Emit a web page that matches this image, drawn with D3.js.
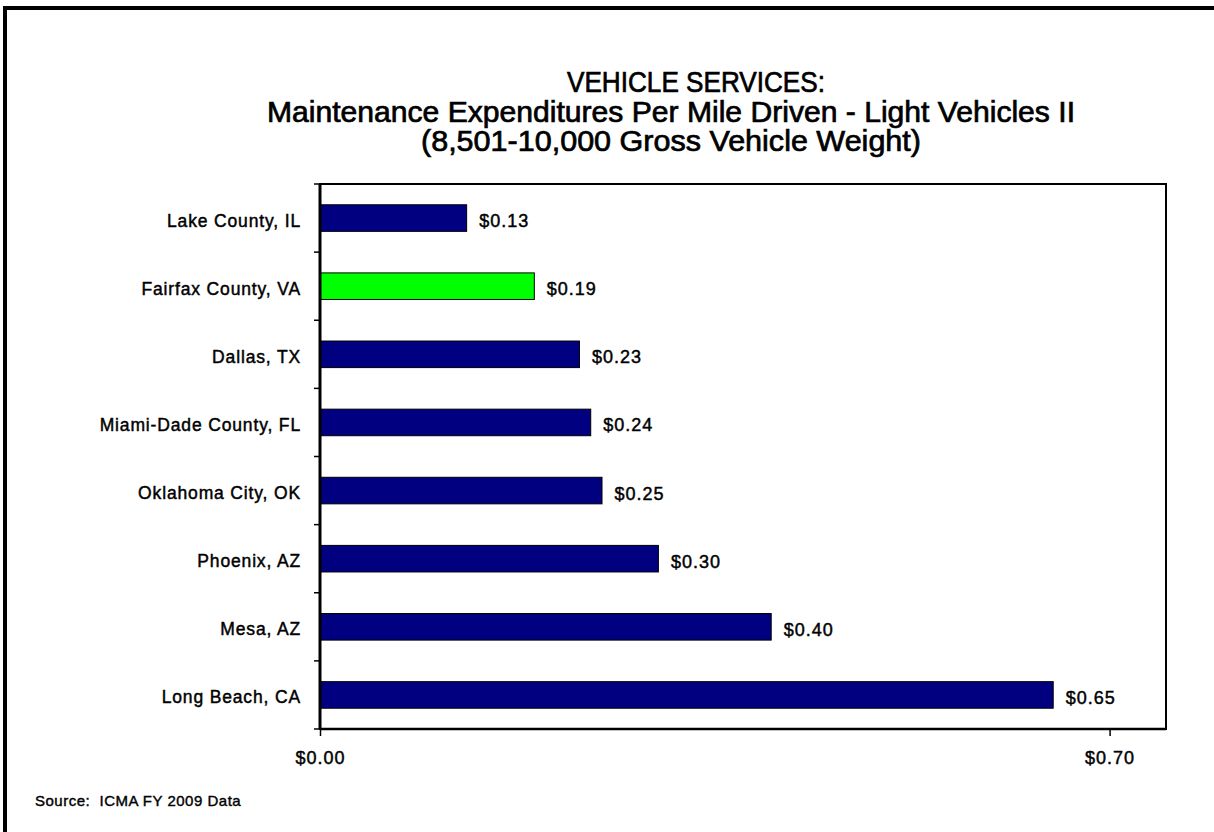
<!DOCTYPE html>
<html>
<head>
<meta charset="utf-8">
<script src="https://cdn.jsdelivr.net/npm/d3@7"></script>
<style>
  html, body { margin: 0; padding: 0; background: #fff; overflow: hidden; }
  svg { display: block; }
</style>
</head>
<body>
<svg id="chart" width="1214" height="832"></svg>
<script>
// ---- data ----
const categories = ["Lake County, IL", "Fairfax County, VA", "Dallas, TX", "Miami-Dade County, FL",
                    "Oklahoma City, OK", "Phoenix, AZ", "Mesa, AZ", "Long Beach, CA"];
const values = [0.13, 0.19, 0.23, 0.24, 0.25, 0.30, 0.40, 0.65];
const highlight = ["Fairfax County, VA"];
const xTicks = [0, 0.70];
const titleLines = ["VEHICLE SERVICES:",
                    "Maintenance Expenditures Per Mile Driven - Light Vehicles II",
                    "(8,501-10,000 Gross Vehicle Weight)"];
const sourceText = "Source:  ICMA FY 2009 Data";

// ---- layout ----
const svg = d3.select("#chart");
const plot = { left: 320, right: 1166, top: 184, bottom: 729 };
const font = "'Liberation Sans', Arial, sans-serif";
const titleFont = "'Liberation Sans Narrow', 'Liberation Sans', Arial, sans-serif";

// medium-weight look: regular glyphs with a hairline outline
function medium(sel, w) {
  return sel.attr("fill", "#000").attr("stroke", "#000").attr("stroke-width", w)
    .attr("paint-order", "stroke");
}

// outer frame (only top and left edges visible)
svg.append("rect")
  .attr("x", 5).attr("y", 8).attr("width", 1300).attr("height", 900)
  .attr("fill", "none").attr("stroke", "#000").attr("stroke-width", 4);

const x = d3.scaleLinear().domain([0, 0.75]).range([plot.left, plot.right]);
const y = d3.scaleBand().domain(categories).range([plot.top, plot.bottom])
  .paddingInner(0.61).paddingOuter(0.305);

// title
const titleSpecs = [
  { cx: 696, base: 92, len: 258 },
  { cx: 671, base: 122, len: 808 },
  { cx: 671, base: 151, len: 500 }
];
titleLines.forEach((t, i) => {
  svg.append("text")
    .attr("x", titleSpecs[i].cx).attr("y", titleSpecs[i].base)
    .attr("text-anchor", "middle")
    .attr("font-family", titleFont).attr("font-size", 29)
    .attr("textLength", titleSpecs[i].len).attr("lengthAdjust", "spacingAndGlyphs")
    .call(medium, 0.7)
    .text(t);
});

// plot frame
svg.append("rect")
  .attr("x", plot.left).attr("y", plot.top)
  .attr("width", plot.right - plot.left).attr("height", plot.bottom - plot.top)
  .attr("fill", "#fff").attr("stroke", "#000").attr("stroke-width", 2);

// bars
svg.selectAll("rect.bar").data(categories).enter().append("rect")
  .attr("class", "bar")
  .attr("x", x(0))
  .attr("y", d => y(d))
  .attr("width", (d, i) => x(values[i]) - x(0))
  .attr("height", y.bandwidth())
  .attr("fill", d => highlight.includes(d) ? "#00ff00" : "#000080")
  .attr("stroke", "#000").attr("stroke-width", 1);

// value labels
svg.selectAll("text.val").data(categories).enter().append("text")
  .attr("class", "val")
  .attr("x", (d, i) => x(values[i]) + 12.5)
  .attr("y", d => y(d) + y.bandwidth() / 2 + 9)
  .attr("font-family", font).attr("font-size", 18)
  .attr("letter-spacing", 1)
  .call(medium, 0.45)
  .text((d, i) => "$" + d3.format(".2f")(values[i]));

// y axis (ticks at category boundaries, labels on the left)
const yAxis = svg.append("g");
const bounds = d3.range(categories.length + 1).map(k => plot.top + k * y.step());
yAxis.selectAll("line.tick").data(bounds).enter().append("line")
  .attr("x1", plot.left - 6).attr("x2", plot.left)
  .attr("y1", d => d).attr("y2", d => d)
  .attr("stroke", "#000").attr("stroke-width", 1.5);
yAxis.append("line")
  .attr("x1", plot.left).attr("x2", plot.left)
  .attr("y1", plot.top).attr("y2", plot.bottom)
  .attr("stroke", "#000").attr("stroke-width", 3);
yAxis.selectAll("text").data(categories).enter().append("text")
  .attr("x", plot.left - 19)
  .attr("y", d => y(d) + y.bandwidth() / 2 + 8.5)
  .attr("text-anchor", "end")
  .attr("font-family", font).attr("font-size", 17.5)
  .attr("letter-spacing", 0.85)
  .call(medium, 0.45)
  .text(d => d);

// x axis
const xAxis = d3.axisBottom(x).tickValues(xTicks).tickSize(7).tickPadding(15)
  .tickFormat(d => "$" + d3.format(".2f")(d));
const gx = svg.append("g").attr("transform", `translate(0,${plot.bottom})`).call(xAxis);
gx.select(".domain").remove();
gx.selectAll(".tick line").attr("stroke", "#000").attr("stroke-width", 1.5);
gx.selectAll(".tick text")
  .attr("font-family", font).attr("font-size", 18)
  .attr("letter-spacing", 1)
  .call(medium, 0.45);
gx.append("line")
  .attr("x1", plot.left).attr("x2", plot.right)
  .attr("y1", 0).attr("y2", 0)
  .attr("stroke", "#000").attr("stroke-width", 2.5);

// source
svg.append("text")
  .attr("x", 35).attr("y", 806)
  .attr("font-family", font).attr("font-size", 15)
  .attr("letter-spacing", 0.5)
  .call(medium, 0.4)
  .attr("xml:space", "preserve")
  .style("white-space", "pre")
  .text(sourceText);
</script>
</body>
</html>
